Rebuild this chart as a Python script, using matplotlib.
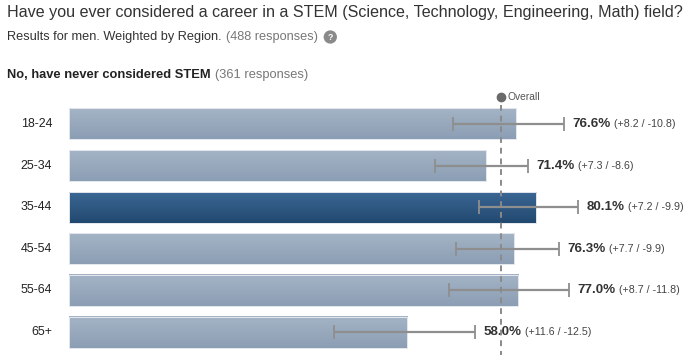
import matplotlib
matplotlib.use('Agg')
import matplotlib.pyplot as plt
import numpy as np

plt.rcParams['font.family'] = ['Liberation Sans', 'DejaVu Sans']

groups = ['18-24', '25-34', '35-44', '45-54', '55-64', '65+']
pct = [76.6, 71.4, 80.1, 76.3, 77.0, 58.0]
err_plus = [8.2, 7.3, 7.2, 7.7, 8.7, 11.6]
err_minus = [10.8, 8.6, 9.9, 9.9, 11.8, 12.5]
highlight = '35-44'
overall = 74.0

W, H = 688, 355
fig = plt.figure(figsize=(W / 100, H / 100), dpi=100)
fig.patch.set_facecolor('white')

def fx(px):
    return px / W

def fy(py):
    return 1 - py / H

# plot area: 0% at x=69px, 5.835 px per percent; rows 41.6 px apart, first centred at y=124
x0 = 69
scale = 5.835
pitch = 41.6
ax = fig.add_axes([fx(x0), fy(355), fx(W - x0), (355 - 100) / H])
ax.set_xlim(0, (W - x0) / scale)
ax.set_ylim(5 + (355 - 332) / pitch, -(124 - 100) / pitch)
ax.axis('off')

y = np.arange(len(groups))
bh = 31 / pitch
grad = np.linspace(0, 1, 50).reshape(-1, 1)
for i, g in enumerate(groups):
    if g == highlight:
        top, bot = '#3b6694', '#22496f'
    else:
        top, bot = '#a4b4c6', '#8c9eb4'
    cmap = matplotlib.colors.LinearSegmentedColormap.from_list('g', [top, bot])
    ax.imshow(grad, cmap=cmap, aspect='auto', extent=(0, pct[i], y[i] + bh / 2, y[i] - bh / 2),
              zorder=1, interpolation='bilinear')
    ax.add_patch(plt.Rectangle((0, y[i] - bh / 2), pct[i], bh, fill=False,
                               ec='#e3e8ee', lw=0.7, zorder=2))

ax.errorbar(pct, y, xerr=[err_minus, err_plus], fmt='none', ecolor='#8e8e8e',
            elinewidth=1.6, capsize=5, capthick=1.3, zorder=3)

ax.plot([overall, overall], [-0.45, ax.get_ylim()[0]], ls=(0, (3, 2.5)), color='#8a8a8a',
        lw=1.4, zorder=4, clip_on=False)
ax.plot([overall], [-(124 - 97) / pitch], 'o', ms=6, color='#6a6a6a', clip_on=False, zorder=5)
ax.text(overall + 1.2, -(124 - 97) / pitch, 'Overall', fontsize=7.4, color='#555555',
        va='center', ha='left')

for i, g in enumerate(groups):
    ax.text(-2.9, y[i], g, ha='right', va='center', fontsize=8.9, color='#222222')
    t = ax.annotate('%.1f%%' % pct[i], xy=(pct[i] + err_plus[i], y[i]), xytext=(6, 0),
                    textcoords='offset points', ha='left', va='center', fontsize=9.6,
                    fontweight='bold', color='#333333')
    ax.annotate('(+%.1f / -%.1f)' % (err_plus[i], err_minus[i]), xy=(1, 0.5), xycoords=t,
                xytext=(2.5, 0), textcoords='offset points', ha='left', va='center',
                fontsize=7.7, color='#444444')

# header texts
fig.text(fx(7), fy(12), 'Have you ever considered a career in a STEM (Science, Technology, Engineering, Math) field?',
         fontsize=11.6, color='#333333', va='center', ha='left')
s1 = fig.text(fx(7), fy(37), 'Results for men. Weighted by Region.', fontsize=9.2,
              color='#333333', va='center', ha='left')
s2 = plt.annotate('(488 responses)', xy=(1, 0.5), xycoords=s1, xytext=(3, 0),
                  textcoords='offset points', fontsize=9.2, color='#777777',
                  va='center', ha='left', annotation_clip=False)
plt.annotate('?', xy=(1, 0.5), xycoords=s2, xytext=(9, 0), textcoords='offset points',
             fontsize=6.2, color='white', fontweight='bold', va='center', ha='center',
             bbox=dict(boxstyle='circle,pad=0.25', fc='#8a8a8a', ec='none'))
h1 = fig.text(fx(7), fy(75), 'No, have never considered STEM', fontsize=9.3,
              fontweight='bold', color='#222222', va='center', ha='left')
plt.annotate('(361 responses)', xy=(1, 0.5), xycoords=h1, xytext=(3, 0),
             textcoords='offset points', fontsize=9.3, color='#777777',
             va='center', ha='left', annotation_clip=False)

plt.savefig('out.png', dpi=100)
